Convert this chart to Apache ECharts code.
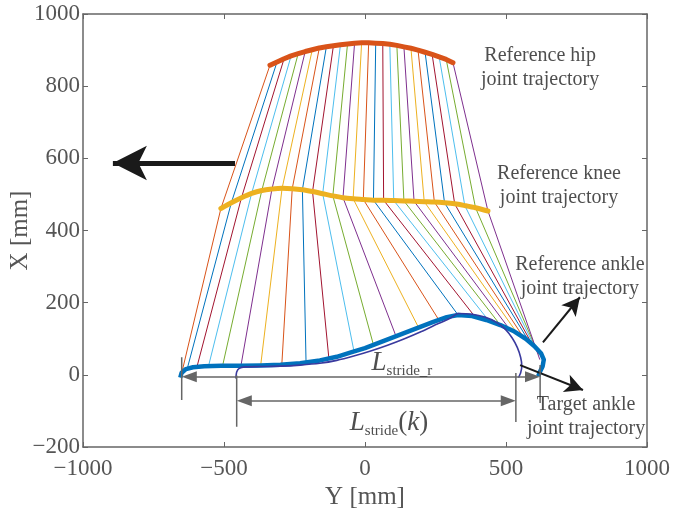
<!DOCTYPE html>
<html>
<head>
<meta charset="utf-8">
<script src="https://cdn.jsdelivr.net/npm/echarts@6/dist/echarts.min.js"></script>
<style>
  html, body { margin: 0; padding: 0; background: #fff; }
  #chart { width: 676px; height: 517px; }
</style>
</head>
<body>
<div id="chart"></div>
<script>
'use strict';

// horizontal axis is labelled "Y [mm]", vertical axis "X [mm]"
var xTicks = [-1000, -500, 0, 500, 1000];
var yTicks = [-200, 0, 200, 400, 600, 800, 1000];

// joint positions for each stick figure (Y = horizontal, X = vertical)
var hipY = [-337, -312, -287, -262, -237, -212, -187, -162, -137, -112, -87, -62, -37, -12,
    13, 38, 63, 88, 113, 138, 163, 188, 213, 238, 263, 288, 312];
var hipX = [858, 867, 876, 884, 890, 896, 901, 906, 909, 912, 915, 917, 919, 920,
    920, 919, 918, 916, 913, 909, 905, 900, 894, 888, 881, 874, 865];
var kneeY = [-511, -474, -438, -402, -366, -330, -294, -258, -222, -186, -150, -114, -78, -42,
    -6, 30, 66, 102, 138, 174, 210, 246, 282, 318, 354, 392, 436];
var kneeX = [461, 477, 491, 503, 511, 515, 517, 516, 513, 508, 502, 496, 491, 488,
    486, 484, 484, 483, 482, 481, 480, 479, 477, 474, 469, 463, 454];
var ankleY = [-649, -630, -596, -555, -505, -440, -370, -295, -209, -128, -39, 30, 110, 190,
    262, 330, 390, 440, 480, 512, 540, 562, 582, 596, 608, 616, 620];
var ankleX = [8, 18, 22, 24, 25, 25, 26, 28, 34, 45, 65, 83, 107, 131,
    152, 166, 161, 149, 138, 127, 115, 104, 92, 80, 68, 56, 42];

// reference ankle trajectory
var refAnkleY = [-655, -650, -635, -610, -570, -510, -440, -370, -300, -230, -160, -100, -50, 0,
    60, 120, 180, 240, 290, 330, 380, 430, 480, 530, 570, 600, 624, 634, 630, 620, 614];
var refAnkleX = [-8, 6, 16, 21, 24, 25, 25, 26, 28, 32, 40, 50, 62, 74,
    92, 110, 128, 146, 160, 166, 163, 152, 138, 120, 100, 80, 60, 42, 24, 8, -4];

// target ankle trajectory
var tgtAnkleY = [-458, -455, -446, -425, -370, -300, -230, -160, -100, -40, 20, 80, 140, 200,
    260, 300, 330, 380, 425, 465, 498, 522, 540, 552, 556, 552, 544];
var tgtAnkleX = [-10, 8, 18, 22, 23, 24, 27, 32, 40, 52, 66, 82, 100, 120,
    142, 156, 170, 168, 160, 146, 126, 102, 76, 48, 24, 6, -8];

// stride dimension lines: [Y of extension line, top X, bottom X]
var strideRExt = [[-650, 49, -70], [621, 27, -78]];
var strideRArrow = [-623, 594, -5];      // arrow-head centres + level
var strideKExt = [[-455, -2, -144], [535, 5, -131]];
var strideKArrow = [-428, 508, -72];

// annotation arrows: [fromY, fromX, tipY, tipX]
var walkArrow = [-461, 587, -894, 587];
var refArrow = [631, 90, 762, 215];
var tgtArrow = [550, 27, 773, -42];

var notes = [
    { pos: [621, 850], text: 'Reference hip\njoint trajectory' },
    { pos: [688, 524], text: 'Reference knee\njoint trajectory' },
    { pos: [762, 271], text: 'Reference ankle\njoint trajectory' },
    { pos: [784, -117], text: 'Target ankle\njoint trajectory' },
    { pos: [131, 32], text: '{L|L}{s|stride_r}' },
    { pos: [85, -134], text: '{L|L}{s|stride}{p|(}{L|k}{p|)}' }
];

var matlabColors = ['#D95319', '#0072BD', '#A2142F', '#4DBEEE', '#77AC30', '#7E2F8E', '#EDB120'];
var serif = '"Liberation Serif", "Times New Roman", serif';
var axisGray = '#666';

function zip(a, b) {
    return a.map(function (v, i) { return [v, b[i]]; });
}

function minusSign(v) { return String(v).replace('-', '\u2212'); }

var series = [];

// stick figures
hipY.forEach(function (_, i) {
    series.push({
        type: 'line', silent: true, symbol: 'none', z: 2,
        data: [[hipY[i], hipX[i]], [kneeY[i], kneeX[i]], [ankleY[i], ankleX[i]]],
        lineStyle: { width: 1, color: matlabColors[i % matlabColors.length] }
    });
});

series.push({
    type: 'line', silent: true, symbol: 'none', z: 3, data: zip(hipY, hipX),
    lineStyle: { width: 5, color: '#D95319', cap: 'round' }
});
series.push({
    type: 'line', silent: true, symbol: 'none', z: 3, data: zip(kneeY, kneeX), smooth: 0.3,
    lineStyle: { width: 5, color: '#EDB120', cap: 'round' }
});
series.push({
    type: 'line', silent: true, symbol: 'none', z: 3, data: zip(refAnkleY, refAnkleX),
    lineStyle: { width: 4.5, color: '#0072BD', join: 'round' }
});
series.push({
    type: 'line', silent: true, symbol: 'none', z: 4, data: zip(tgtAnkleY, tgtAnkleX), smooth: 0.2,
    lineStyle: { width: 1.6, color: '#3a3a9e' }
});

// dimension extension lines
strideRExt.concat(strideKExt).forEach(function (e) {
    series.push({
        type: 'line', silent: true, symbol: 'none', z: 5,
        data: [[e[0], e[1]], [e[0], e[2]]],
        lineStyle: { width: 1.5, color: axisGray }
    });
});

function dimLine(a) {
    return {
        type: 'line', silent: true, symbol: 'none', z: 5, data: [],
        markLine: {
            silent: true, animation: false,
            symbol: ['triangle', 'triangle'], symbolSize: [11, 15],
            label: { show: false },
            lineStyle: { color: axisGray, width: 1.5, type: 'solid' },
            itemStyle: { color: axisGray },
            data: [[{ coord: [a[0], a[2]] }, { coord: [a[1], a[2]] }]]
        }
    };
}
series.push(dimLine(strideRArrow));
series.push(dimLine(strideKArrow));

function arrow(a, width, size) {
    return {
        type: 'line', silent: true, symbol: 'none', z: 6, data: [],
        markLine: {
            silent: true, animation: false,
            symbol: ['none', 'arrow'], symbolSize: size,
            label: { show: false },
            lineStyle: { color: '#1a1a1a', width: width, type: 'solid' },
            itemStyle: { color: '#1a1a1a' },
            data: [[{ coord: [a[0], a[1]] }, { coord: [a[2], a[3]] }]]
        }
    };
}
series.push(arrow(walkArrow, 5, [26, 34]));
series.push(arrow(refArrow, 2, [14, 18]));
series.push(arrow(tgtArrow, 2, [14, 18]));

// text annotations
series.push({
    type: 'scatter', silent: true, symbolSize: 0, z: 7,
    data: notes.map(function (n) {
        return { value: n.pos, label: { formatter: n.text } };
    }),
    label: {
        show: true, position: 'inside', color: '#222',
        fontFamily: serif, fontSize: 20, lineHeight: 24, align: 'center',
        rich: {
            L: { fontFamily: serif, fontStyle: 'italic', fontSize: 27, lineHeight: 30, color: '#222' },
            s: { fontFamily: serif, fontSize: 15, lineHeight: 30, verticalAlign: 'bottom', color: '#222' },
            p: { fontFamily: serif, fontSize: 27, lineHeight: 30, color: '#222' }
        }
    }
});

function valueAxis(pos, min, max, interval, showLabels, name, nameGap, labelMargin) {
    return {
        type: 'value', position: pos, min: min, max: max, interval: interval,
        name: name, nameLocation: 'middle', nameGap: nameGap, nameMoveOverlap: false,
        nameTextStyle: { fontFamily: serif, fontSize: 25, color: '#555' },
        axisLine: { show: true, onZero: false, lineStyle: { color: axisGray, width: 1.5 } },
        axisTick: { show: true, inside: true, length: 5, lineStyle: { color: axisGray, width: 1 } },
        axisLabel: {
            show: showLabels, fontFamily: serif, fontSize: 23, color: '#555', margin: labelMargin,
            formatter: minusSign
        },
        splitLine: { show: false }
    };
}

var chart = echarts.init(document.getElementById('chart'), null, { renderer: 'canvas' });
chart.setOption({
    animation: false,
    backgroundColor: '#fff',
    grid: { left: 83, right: 29, top: 14, bottom: 70, containLabel: false, outerBoundsMode: 'none' },
    xAxis: [
        valueAxis('bottom', xTicks[0], xTicks[xTicks.length - 1], xTicks[1] - xTicks[0], true, 'Y [mm]', 38, 10),
        valueAxis('top', xTicks[0], xTicks[xTicks.length - 1], xTicks[1] - xTicks[0], false, '', 0, 0)
    ],
    yAxis: [
        valueAxis('left', yTicks[0], yTicks[yTicks.length - 1], yTicks[1] - yTicks[0], true, 'X [mm]', 50, 3),
        valueAxis('right', yTicks[0], yTicks[yTicks.length - 1], yTicks[1] - yTicks[0], false, '', 0, 0)
    ],
    series: series
});
window.addEventListener('resize', function () { chart.resize(); });
</script>
</body>
</html>
